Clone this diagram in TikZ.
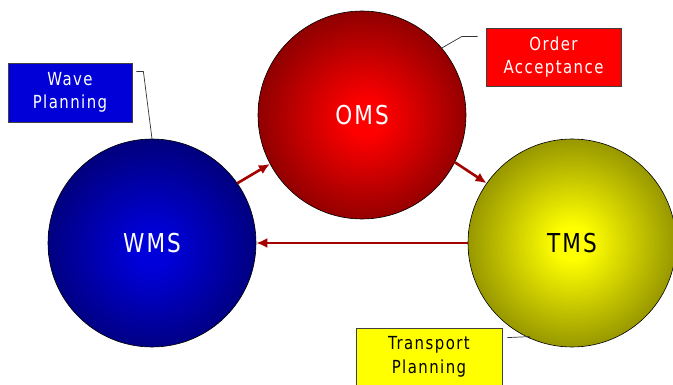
\documentclass[tikz,border=0pt]{standalone}
\usepackage{fontspec}
\setmainfont{DejaVu Sans}[LetterSpace=8, FakeStretch=0.83]
\usepackage{tikz}
\usetikzlibrary{arrows.meta, positioning}

\definecolor{wmsinner}{RGB}{0,0,218}
\definecolor{wmsouter}{RGB}{0,0,95}
\definecolor{omsinner}{RGB}{255,0,0}
\definecolor{omsouter}{RGB}{105,0,0}
\definecolor{tmsinner}{RGB}{255,255,0}
\definecolor{tmsouter}{RGB}{112,112,0}
\definecolor{flowred}{RGB}{165,0,0}
\definecolor{boxblue}{RGB}{0,0,215}
\definecolor{boxred}{RGB}{255,0,0}
\definecolor{boxyellow}{RGB}{255,255,0}

\pgfdeclareradialshading{wmsball}{\pgfpoint{0bp}{-2bp}}{color(0bp)=(wmsinner); color(4bp)=(wmsinner); color(33bp)=(wmsouter); color(50bp)=(wmsouter)}
\pgfdeclareradialshading{omsball}{\pgfpoint{1bp}{-1bp}}{color(0bp)=(omsinner); color(4bp)=(omsinner); color(33bp)=(omsouter); color(50bp)=(omsouter)}
\pgfdeclareradialshading{tmsball}{\pgfpoint{0bp}{0bp}}{color(0bp)=(tmsinner); color(4bp)=(tmsinner); color(33bp)=(tmsouter); color(50bp)=(tmsouter)}

\begin{document}
\begin{tikzpicture}[
        x=1pt, y=-1pt,
        system/.style={circle, draw=black, line width=0.6pt, inner sep=0pt, minimum size=208pt, font=\fontsize{26}{30}\selectfont},
        tag/.style={rectangle, draw=black!75, line width=0.8pt, align=center, font=\fontsize{18}{23.5}\selectfont},
        leader/.style={black!80, line width=0.7pt},
        flow/.style={-{Latex[length=11pt, width=10pt]}, flowred, line width=2.6pt}
    ]
        \useasboundingbox (0,0) rectangle (673,385);

        % Systems
        \node[system, shade, shading=wmsball, text=white] (wms) at (152,243) {WMS};
        \node[system, shade, shading=omsball, text=white] (oms) at (362,115) {OMS};
        \node[system, shade, shading=tmsball, text=black] (tms) at (572,243) {TMS};

        % Labels
        \node[tag, fill=boxblue, text=white, minimum width=124pt, minimum height=59pt] (wave) at (70,92.5) {Wave\\Planning};
        \node[tag, fill=boxred, text=white, minimum width=135pt, minimum height=58pt] (order) at (553.5,57) {Order\\Acceptance};
        \node[tag, fill=boxyellow, text=black, minimum width=146pt, minimum height=58pt] (transport) at (429,357) {Transport\\Planning};

        % Leader lines
        \draw[leader] ([shift={(4,9)}]wave.north east) -- ++(7,0) -- (wms.north);
        \draw[leader] ([shift={(-8,9)}]order.north west) -- ++(-16,0) -- (oms.40);
        \draw[leader] ([shift={(5,10)}]transport.north east) -- ++(22,-1) -- (tms.246);

        % Flows
        \draw[flow] (wms.35) -- (oms.208);
        \draw[flow] (oms.-27) -- (tms.145);
        \draw[flow] (tms.west) -- (wms.east);

    \end{tikzpicture}
\end{document}
